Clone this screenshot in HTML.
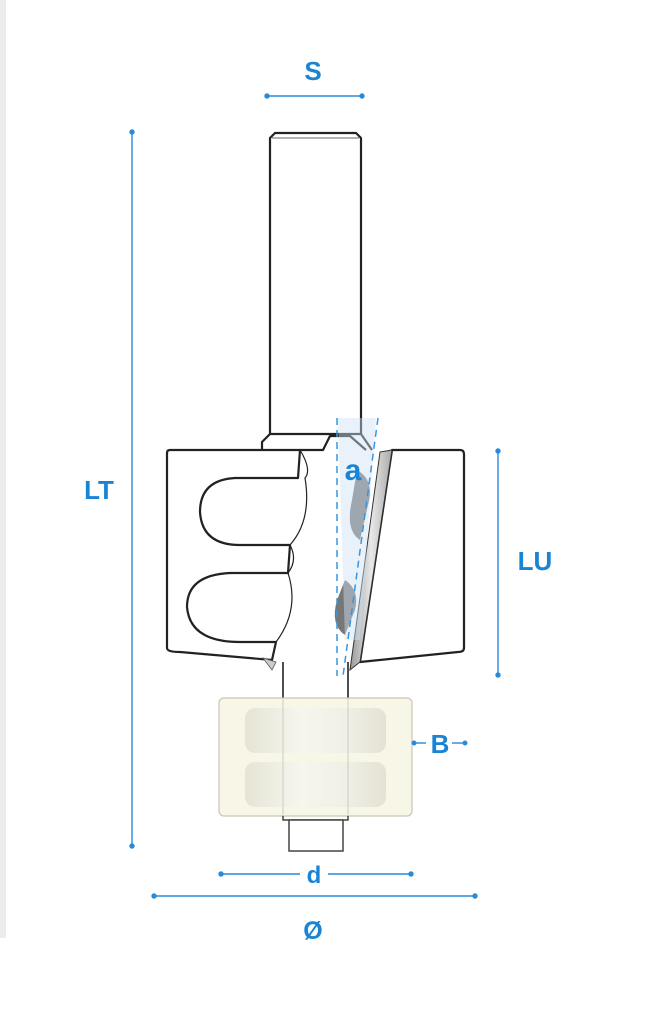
<!DOCTYPE html>
<html><head><meta charset="utf-8"><style>
html,body{margin:0;padding:0;background:#fff;}
svg{display:block;}
text{font-family:"Liberation Sans",sans-serif;font-weight:bold;fill:#1a84d4;}
</style></head><body>
<svg width="667" height="1010" viewBox="0 0 667 1010" xmlns="http://www.w3.org/2000/svg">
<rect x="0" y="0" width="6" height="938" fill="#ececec"/>
<defs>
<linearGradient id="bg" x1="0" x2="1" y1="0" y2="0">
<stop offset="0" stop-color="#e6e4d6"/><stop offset="0.4" stop-color="#f6f6ee"/><stop offset="0.7" stop-color="#f0f0e6"/><stop offset="1" stop-color="#e4e2d4"/>
</linearGradient>
<linearGradient id="bl" x1="0" x2="1"><stop offset="0" stop-color="#999"/><stop offset="0.5" stop-color="#e8e8e8"/><stop offset="1" stop-color="#aaa"/></linearGradient>
</defs>
<g fill="none" stroke="#222" stroke-width="2.2" stroke-linejoin="round">
<path d="M270 440 V138 L275 133 H356 L361 138 V440" fill="#fff"/>
<line x1="272" y1="138" x2="359" y2="138" stroke="#666" stroke-width="1"/>
<path d="M262 450 V442 L270 434 H361 L372 450" fill="#fff"/>
<path d="M167 453 Q167 450 170 450 H300 L298 478 H235 Q200 480 200 512 Q202 545 240 545 H290 L288 573 H230 Q187 575 187 607 Q190 642 240 642 H276 L272 660 L180 652 Q167 652 167 648 Z" fill="#fff"/>
<path d="M300 450 H323 L330 436 H350 L366 450" fill="#fff"/>
<path d="M300 450 Q312 470 305 478 Q312 520 290 545 Q298 560 288 573 Q300 610 276 642" stroke-width="1.2"/>
<path d="M392 450 H460 Q464 450 464 454 V648 Q464 652 458 652 L360 662 Z" fill="#fff"/>
<path d="M283 662 V698 M348 662 V698" stroke-width="1.6"/>
</g>
<path d="M380 452 L392 450 L360 662 L350 670 Z" fill="url(#bl)" stroke="#333" stroke-width="1"/>
<path d="M357 470 Q375 480 368 505 L360 540 Q345 530 352 500 Z" fill="#555" opacity="0.8"/>
<path d="M345 580 Q360 590 355 610 L345 635 Q330 625 337 600 Z" fill="#555" opacity="0.8"/>
<path d="M263 658 L276 662 L272 670 Z" fill="#ccc" stroke="#555" stroke-width="0.8"/>
<path d="M338 418 L376 418 L360 640 L345 640 Z" fill="#cfe3f5" opacity="0.45"/>
<line x1="337" y1="418" x2="337" y2="676" stroke="#3a95dc" stroke-width="1.5" stroke-dasharray="7,5"/>
<line x1="378" y1="418" x2="343" y2="676" stroke="#3a95dc" stroke-width="1.5" stroke-dasharray="7,5"/>
<text x="353" y="480" font-size="30" text-anchor="middle">a</text>
<rect x="219" y="698" width="193" height="118" rx="5" fill="#f8f6e6" stroke="#c8c6b8" stroke-width="1.2"/>
<rect x="245" y="708" width="141" height="45" rx="10" fill="url(#bg)"/>
<rect x="245" y="762" width="141" height="45" rx="10" fill="url(#bg)"/>
<line x1="283" y1="698" x2="283" y2="816" stroke="#ccc" stroke-width="1"/>
<line x1="348" y1="698" x2="348" y2="816" stroke="#ccc" stroke-width="1"/>
<path d="M283 816 V820 H348 V816" fill="none" stroke="#444" stroke-width="1.5"/>
<rect x="289" y="820" width="54" height="31" fill="#fff" stroke="#444" stroke-width="1.5"/>
<g stroke="#2a8ad8" stroke-width="1.4" fill="#2a8ad8">
<line x1="267" y1="96" x2="362" y2="96"/><circle cx="267" cy="96" r="2"/><circle cx="362" cy="96" r="2"/>
<line x1="132" y1="132" x2="132" y2="846"/><circle cx="132" cy="132" r="2"/><circle cx="132" cy="846" r="2"/>
<line x1="498" y1="451" x2="498" y2="675"/><circle cx="498" cy="451" r="2"/><circle cx="498" cy="675" r="2"/>
<line x1="221" y1="874" x2="300" y2="874"/><line x1="328" y1="874" x2="411" y2="874"/><circle cx="221" cy="874" r="2"/><circle cx="411" cy="874" r="2"/>
<line x1="154" y1="896" x2="475" y2="896"/><circle cx="154" cy="896" r="2"/><circle cx="475" cy="896" r="2"/>
<line x1="414" y1="743" x2="426" y2="743"/><circle cx="414" cy="743" r="1.8"/>
<line x1="452" y1="743" x2="465" y2="743"/><circle cx="465" cy="743" r="1.8"/>
</g>
<text x="313" y="80" font-size="26" text-anchor="middle">S</text>
<text x="99" y="499" font-size="26" text-anchor="middle">LT</text>
<text x="535" y="570" font-size="26" text-anchor="middle">LU</text>
<text x="314" y="883" font-size="24" text-anchor="middle">d</text>
<text x="313" y="939" font-size="25" text-anchor="middle">Ø</text>
<text x="440" y="753" font-size="26" text-anchor="middle">B</text>
</svg>
</body></html>
